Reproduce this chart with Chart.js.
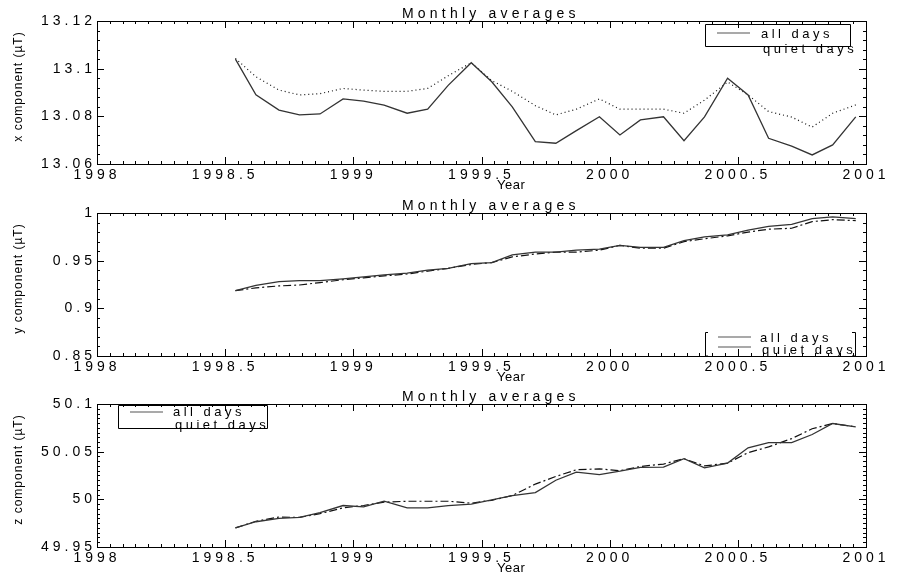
<!DOCTYPE html>
<html>
<head>
<meta charset="utf-8">
<script src="https://cdn.jsdelivr.net/npm/chart.js@4.4.1/dist/chart.umd.min.js"></script>
<style>
  body { margin: 0; background: #fff; overflow: hidden; }
  .panel { position: absolute; left: 0; width: 900px; height: 192px; }
</style>
</head>
<body>
<div class="panel" style="top:0"><canvas id="xChart" width="900" height="192"></canvas></div>
<div class="panel" style="top:192px"><canvas id="yChart" width="900" height="192"></canvas></div>
<div class="panel" style="top:383px"><canvas id="zChart" width="900" height="192"></canvas></div>
<script>
// monthly samples, Jul 1998 .. Dec 2000 (decimal years)
const monthYears = [1998.54, 1998.62, 1998.71, 1998.79, 1998.87, 1998.96,
  1999.04, 1999.12, 1999.21, 1999.29, 1999.37, 1999.46, 1999.54, 1999.62, 1999.71, 1999.79, 1999.87, 1999.96,
  2000.04, 2000.12, 2000.21, 2000.29, 2000.37, 2000.46, 2000.54, 2000.62, 2000.71, 2000.79, 2000.87, 2000.96];

const yearTicks = [1998, 1998.5, 1999, 1999.5, 2000, 2000.5, 2001];

const xAllDays = [13.104, 13.089, 13.0826, 13.0806, 13.081, 13.0873, 13.0864, 13.0847, 13.0813, 13.083,
  13.093, 13.1025, 13.0945, 13.084, 13.0694, 13.0687, 13.074, 13.0798, 13.0722, 13.0785,
  13.0798, 13.0698, 13.0798, 13.096, 13.089, 13.0708, 13.0675, 13.0638, 13.068, 13.0798];
const xQuietDays = [13.1043, 13.0966, 13.091, 13.089, 13.0895, 13.0917, 13.091, 13.0905, 13.0905, 13.0917,
  13.097, 13.1025, 13.095, 13.0905, 13.0845, 13.0806, 13.083, 13.0873, 13.083, 13.083,
  13.083, 13.0813, 13.0868, 13.0944, 13.089, 13.082, 13.0797, 13.0755, 13.0813, 13.0848];
const xCompTicks = [13.06, 13.08, 13.1, 13.12];

const yAllDays = [0.9185, 0.924, 0.928, 0.929, 0.929, 0.931, 0.933, 0.935, 0.937, 0.940,
  0.942, 0.947, 0.948, 0.956, 0.959, 0.959, 0.961, 0.962, 0.966, 0.964,
  0.964, 0.971, 0.975, 0.977, 0.982, 0.986, 0.988, 0.994, 0.996, 0.994];
const yQuietDays = [0.9185, 0.9215, 0.9235, 0.9245, 0.927, 0.930, 0.932, 0.934, 0.936, 0.939,
  0.942, 0.946, 0.948, 0.954, 0.957, 0.959, 0.959, 0.961, 0.966, 0.963,
  0.963, 0.970, 0.973, 0.976, 0.980, 0.983, 0.984, 0.991, 0.993, 0.992];
const yCompTicks = [0.85, 0.9, 0.95, 1];

const zAllDays = [49.970, 49.9765, 49.980, 49.981, 49.986, 49.9935, 49.992, 49.998, 49.991, 49.991,
  49.9935, 49.995, 49.9995, 50.004, 50.007, 50.020, 50.0285, 50.026, 50.0295, 50.0335,
  50.0337, 50.0426, 50.033, 50.038, 50.054, 50.0595, 50.0595, 50.068, 50.0795, 50.076];
const zQuietDays = [49.970, 49.977, 49.9815, 49.981, 49.985, 49.991, 49.9935, 49.997, 49.998, 49.998,
  49.998, 49.996, 49.999, 50.004, 50.016, 50.024, 50.031, 50.032, 50.030, 50.0345,
  50.037, 50.0426, 50.035, 50.038, 50.049, 50.055, 50.0637, 50.074, 50.0795, 50.076];
const zCompTicks = [49.95, 50, 50.05, 50.1];

const FONT = "'Liberation Sans', Arial, sans-serif";

function txt(ctx, s, x, y, size, spacing, align) {
  ctx.font = size + 'px ' + FONT;
  ctx.letterSpacing = spacing + 'px';
  ctx.textAlign = align || 'left';
  ctx.textBaseline = 'alphabetic';
  ctx.fillText(s, x, y);
}

const idlFrame = {
  id: 'idlFrame',
  beforeDraw(chart) {
    chart.ctx.letterSpacing = '4px';
  },
  afterDraw(chart, args, o) {
    const ctx = chart.ctx;
    const a = chart.chartArea;
    const xs = chart.scales.x, ys = chart.scales.y;
    ctx.save();
    ctx.letterSpacing = '0px';
    ctx.strokeStyle = '#000';
    ctx.lineWidth = 1;
    ctx.strokeRect(Math.round(a.left) + 0.5, Math.round(a.top) + 0.5,
      Math.round(a.right - a.left), Math.round(a.bottom - a.top));

    ctx.beginPath();
    let n = Math.round((xs.max - xs.min) / o.xMinor);
    for (let i = 0; i <= n; i++) {
      const v = xs.min + i * o.xMinor;
      const major = yearTicks.some(t => Math.abs(t - v) < 1e-6);
      const len = major ? 7 : 3;
      const px = Math.round(xs.getPixelForValue(v)) + 0.5;
      ctx.moveTo(px, a.bottom); ctx.lineTo(px, a.bottom - len);
      ctx.moveTo(px, a.top); ctx.lineTo(px, a.top + len);
    }
    n = Math.round((ys.max - ys.min) / o.yMinor);
    for (let i = 0; i <= n; i++) {
      const v = ys.min + i * o.yMinor;
      const major = o.yMajors.some(t => Math.abs(t - v) < 1e-6);
      const len = major ? 7 : 3;
      const py = Math.round(ys.getPixelForValue(v)) + 0.5;
      ctx.moveTo(a.left, py); ctx.lineTo(a.left + len, py);
      ctx.moveTo(a.right, py); ctx.lineTo(a.right - len, py);
    }
    ctx.stroke();

    ctx.fillStyle = '#000';
    // title and x axis title
    txt(ctx, 'Monthly averages', a.left + 305, a.top - 3, 14, 4.2);
    txt(ctx, 'Year', a.left + 400, a.bottom + 25, 13, 0.5);

    // y axis title
    ctx.save();
    ctx.translate(22, (a.top + a.bottom) / 2 - 6);
    ctx.rotate(-Math.PI / 2);
    txt(ctx, o.yTitle, 0, 0, 12, 1, 'center');
    ctx.restore();

    // legend
    const L = o.legend;
    const bx = a.left + L.x, by = a.top + L.y;
    ctx.beginPath();
    if (L.brackets) {
      ctx.moveTo(bx + 3, by + 0.5); ctx.lineTo(bx + 0.5, by + 0.5); ctx.lineTo(bx + 0.5, by + L.h); ctx.lineTo(bx + 3, by + L.h);
      ctx.moveTo(bx + L.w - 3, by + 0.5); ctx.lineTo(bx + L.w + 0.5, by + 0.5); ctx.lineTo(bx + L.w + 0.5, by + L.h); ctx.lineTo(bx + L.w - 3, by + L.h);
    } else {
      ctx.rect(bx + 0.5, by + 0.5, L.w, L.h);
    }
    ctx.stroke();
    ctx.strokeStyle = '#555';
    ctx.lineWidth = 1.2;
    ctx.beginPath();
    ctx.moveTo(bx + L.sx, by + L.s1); ctx.lineTo(bx + L.sx + 33, by + L.s1);
    if (L.s2) { ctx.moveTo(bx + L.sx, by + L.s2); ctx.lineTo(bx + L.sx + 33, by + L.s2); }
    ctx.stroke();
    txt(ctx, 'all days', bx + L.tx, by + L.t1, 13, 3.5);
    txt(ctx, 'quiet days', bx + L.tx + 2, by + L.t2, 13, 3.5);
    ctx.restore();
  }
};

function makeChart(id, allDays, quietDays, yTicks, quietDash, opts) {
  const pts = arr => arr.map((v, i) => ({ x: monthYears[i], y: v }));
  return new Chart(document.getElementById(id), {
    type: 'line',
    data: {
      datasets: [
        { label: 'all days', data: pts(allDays), borderColor: '#333', borderWidth: 1.3,
          pointRadius: 0, tension: 0, fill: false },
        { label: 'quiet days', data: pts(quietDays), borderColor: '#111', borderWidth: 1.2,
          borderDash: quietDash, pointRadius: 0, tension: 0, fill: false }
      ]
    },
    options: {
      responsive: false,
      devicePixelRatio: 1,
      animation: false,
      layout: { padding: { top: 21, right: 34, left: 0, bottom: 0 } },
      plugins: { legend: { display: false }, tooltip: { enabled: false }, idlFrame: opts },
      scales: {
        x: {
          type: 'linear', min: 1998, max: 2001,
          afterBuildTicks: s => { s.ticks = yearTicks.map(v => ({ value: v })); },
          afterFit: s => { s.height = 28; },
          grid: { display: false, drawTicks: false },
          border: { display: false },
          ticks: { autoSkip: false, maxRotation: 0, padding: 3, color: '#000',
            font: { family: FONT, size: 14 }, callback: v => String(+v.toFixed(2)) }
        },
        y: {
          min: yTicks[0], max: yTicks[yTicks.length - 1],
          afterBuildTicks: s => { s.ticks = yTicks.map(v => ({ value: v })); },
          afterFit: s => { s.width = 97; },
          grid: { display: false, drawTicks: false },
          border: { display: false },
          ticks: { padding: 1, color: '#000', font: { family: FONT, size: 14 },
            callback: v => String(+v.toFixed(4)) }
        }
      }
    },
    plugins: [idlFrame]
  });
}

makeChart('xChart', xAllDays, xQuietDays, xCompTicks, [1, 3], {
  xMinor: 0.05, yMinor: 0.004, yMajors: xCompTicks, yTitle: 'x component (\u00b5T)',
  legend: { x: 608, y: 3, w: 145, h: 22, sx: 12, s1: 9, tx: 56, t1: 14, t2: 29 }
});
makeChart('yChart', yAllDays, yQuietDays, yCompTicks, [8, 3, 2, 3], {
  xMinor: 0.05, yMinor: 0.01, yMajors: yCompTicks, yTitle: 'y component (\u00b5T)',
  legend: { x: 608, y: 119, w: 150, h: 24, brackets: true, sx: 13, s1: 5, s2: 15, tx: 55, t1: 10, t2: 22 }
});
makeChart('zChart', zAllDays, zQuietDays, zCompTicks, [8, 3, 2, 3], {
  xMinor: 0.05, yMinor: 0.005, yMajors: zCompTicks, yTitle: 'z component (\u00b5T)',
  legend: { x: 21, y: 1, w: 149, h: 23, sx: 12, s1: 7, tx: 55, t1: 11, t2: 24 }
});
</script>
</body>
</html>
